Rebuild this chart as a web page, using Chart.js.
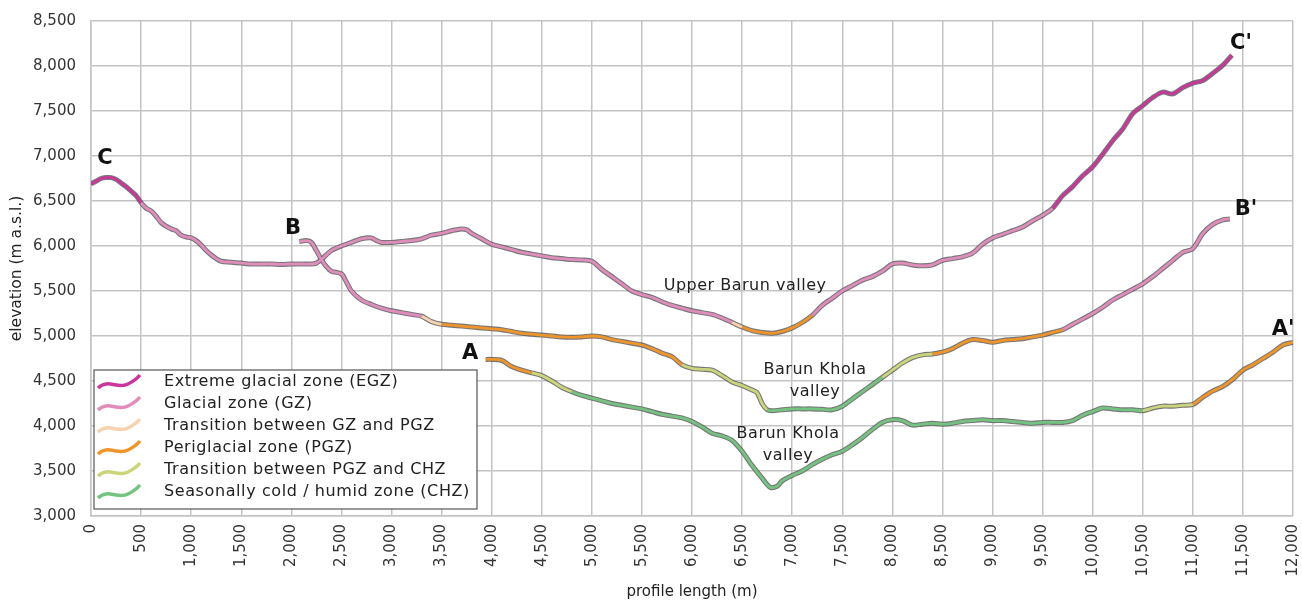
<!DOCTYPE html>
<html>
<head>
<meta charset="utf-8">
<script src="https://cdn.jsdelivr.net/npm/chart.js@4.4.1/dist/chart.umd.min.js"></script>
<style>
  html, body { margin: 0; padding: 0; background: #fff; }
  #wrap { width: 1302px; height: 603px; position: relative; }
</style>
</head>
<body>
<div id="wrap"><canvas id="profileChart" width="1302" height="603"></canvas></div>
<script>
// zones (legend order)
var zoneNames = [
  'Extreme glacial zone (EGZ)',
  'Glacial zone (GZ)',
  'Transition between GZ and PGZ',
  'Periglacial zone (PGZ)',
  'Transition between PGZ and CHZ',
  'Seasonally cold / humid zone (CHZ)'
];
var zoneColors = ['#c9379c', '#e08cbc', '#f6d2ae', '#f0952c', '#ccd57c', '#74c380'];

// profile C - C' (upper Barun valley)
var cDist = [0, 50, 100, 150, 200, 250, 300, 350, 400, 450, 500, 550, 600, 650, 700, 750, 800, 850, 900, 950,
  1000, 1050, 1100, 1150, 1200, 1250, 1300, 1400, 1500, 1600, 1700, 1800, 1900, 2000, 2100, 2200, 2250, 2300,
  2400, 2500, 2600, 2700, 2800, 2850, 2900, 3000, 3100, 3200, 3300, 3400, 3500, 3600, 3700, 3750, 3800, 3900,
  4000, 4100, 4200, 4300, 4400, 4500, 4600, 4700, 4800, 4900, 5000, 5100, 5200, 5300, 5400, 5500, 5600, 5700,
  5800, 5900, 6000, 6100, 6200, 6300, 6400, 6500, 6600, 6700, 6800, 6900, 7000, 7100, 7200, 7300, 7400, 7500,
  7600, 7700, 7800, 7900, 8000, 8100, 8200, 8300, 8400, 8500, 8600, 8700, 8800, 8900, 9000, 9100, 9200, 9300,
  9400, 9500, 9600, 9700, 9800, 9900, 10000, 10100, 10200, 10300, 10400, 10500, 10600, 10700, 10800, 10900,
  11000, 11100, 11200, 11300, 11390];
var cElev = [6690, 6720, 6750, 6760, 6760, 6740, 6700, 6660, 6610, 6560, 6480, 6420, 6390, 6330, 6260, 6220, 6190, 6170, 6120, 6100,
  6090, 6060, 6010, 5950, 5900, 5860, 5830, 5820, 5810, 5800, 5800, 5800, 5795, 5800, 5800, 5800, 5810, 5850,
  5950, 6000, 6040, 6080, 6090, 6060, 6040, 6040, 6050, 6060, 6080, 6120, 6140, 6170, 6190, 6180, 6140, 6080,
  6020, 5990, 5960, 5930, 5910, 5890, 5870, 5860, 5850, 5845, 5830, 5740, 5660, 5580, 5500, 5460, 5430, 5380,
  5340, 5310, 5280, 5260, 5240, 5200, 5150, 5100, 5060, 5040, 5030, 5050, 5090, 5150, 5230, 5340, 5420, 5500,
  5560, 5620, 5660, 5720, 5800, 5810, 5790, 5780, 5790, 5840, 5860, 5880, 5920, 6020, 6090, 6130, 6170, 6210,
  6280, 6340, 6420, 6560, 6660, 6780, 6880, 7020, 7170, 7300, 7470, 7560, 7650, 7710, 7690, 7760,
  7810, 7840, 7920, 8010, 8120];
var cZones = [[0, 0], [500, 1], [6400, 2], [6450, 3], [7150, 2], [7200, 1], [9550, 0]];

// profile B - B'
var bDist = [2080, 2150, 2200, 2250, 2300, 2350, 2400, 2500, 2550, 2600, 2700, 2800, 2900, 3000, 3100, 3200, 3300,
  3400, 3500, 3600, 3700, 3800, 3900, 4000, 4100, 4200, 4300, 4400, 4500, 4600, 4700, 4800, 4900, 5000, 5100,
  5200, 5300, 5400, 5500, 5600, 5700, 5800, 5900, 6000, 6100, 6200, 6300, 6400, 6500, 6600, 6650, 6700, 6750,
  6800, 6900, 7000, 7100, 7200, 7300, 7400, 7500, 7600, 7700, 7800, 7900, 8000, 8100, 8200, 8300, 8400, 8500,
  8600, 8700, 8800, 8900, 9000, 9100, 9200, 9300, 9400, 9500, 9600, 9700, 9800, 9900, 10000, 10100, 10200,
  10300, 10400, 10500, 10600, 10700, 10800, 10900, 11000, 11100, 11200, 11300, 11370];
var bElev = [6050, 6060, 6040, 5950, 5850, 5770, 5720, 5690, 5600, 5500, 5400, 5350, 5310, 5280, 5260, 5240, 5220,
  5160, 5130, 5120, 5110, 5100, 5090, 5080, 5070, 5050, 5030, 5020, 5010, 5000, 4990, 4985, 4990, 5000, 4990,
  4960, 4940, 4920, 4900, 4860, 4810, 4770, 4680, 4640, 4630, 4620, 4560, 4490, 4450, 4400, 4370, 4250, 4180,
  4170, 4180, 4190, 4190, 4190, 4185, 4180, 4220, 4300, 4380, 4460, 4540, 4620, 4700, 4760, 4790, 4800, 4820,
  4860, 4920, 4960, 4950, 4930, 4950, 4960, 4970, 4990, 5010, 5040, 5070, 5130, 5190, 5250, 5320, 5400,
  5460, 5520, 5580, 5660, 5750, 5840, 5930, 5970, 6140, 6240, 6290, 6300];
var bZones = [[2080, 1], [3300, 2], [3450, 3], [5850, 4], [6720, 5], [7850, 4], [8350, 3], [9680, 1]];

// profile A - A'
var aDist = [3940, 4000, 4100, 4200, 4300, 4400, 4500, 4600, 4700, 4800, 4900, 5000, 5100, 5200, 5300, 5400, 5500,
  5600, 5700, 5800, 5900, 6000, 6100, 6200, 6300, 6400, 6500, 6600, 6700, 6780, 6850, 6900, 7000, 7100, 7200,
  7300, 7400, 7500, 7600, 7700, 7800, 7900, 8000, 8100, 8200, 8300, 8400, 8500, 8600, 8700, 8800, 8900, 9000,
  9100, 9200, 9300, 9400, 9500, 9600, 9700, 9800, 9900, 10000, 10100, 10200, 10300, 10400, 10500, 10600, 10700,
  10800, 10900, 11000, 11100, 11200, 11300, 11400, 11500, 11600, 11700, 11800, 11900, 12000];
var aElev = [4740, 4740, 4730, 4660, 4620, 4590, 4560, 4500, 4430, 4380, 4340, 4310, 4280, 4250, 4230, 4210, 4190,
  4160, 4130, 4110, 4090, 4050, 3990, 3920, 3890, 3840, 3720, 3560, 3420, 3320, 3330, 3390, 3450, 3500, 3570,
  3630, 3680, 3720, 3790, 3870, 3960, 4040, 4070, 4060, 4010, 4020, 4030, 4020, 4030, 4050, 4060, 4070, 4060,
  4060, 4050, 4040, 4030, 4040, 4040, 4040, 4060, 4120, 4160, 4200, 4190, 4180, 4180, 4170, 4200, 4220,
  4220, 4230, 4240, 4320, 4390, 4440, 4520, 4620, 4680, 4750, 4820, 4900, 4930];
var aZones = [[3940, 3], [4350, 4], [4750, 5], [10450, 4], [10950, 3]];

// axis ticks
var xMin = 0, xMax = 12000, xStep = 500;
var yMin = 3000, yMax = 8500, yStep = 500;

// labels on the plot (in data units)
var endLabels = [
  { text: 'C', x: 140, y: 6967 },
  { text: 'B', x: 2017, y: 6189 },
  { text: 'A', x: 3784, y: 4800 },
  { text: "C'", x: 11480, y: 8244 },
  { text: "B'", x: 11530, y: 6400 },
  { text: "A'", x: 11900, y: 5067 }
];
var valleyLabels = [
  { lines: ['Upper Barun valley'], x: 6530, y: 5556 },
  { lines: ['Barun Khola', 'valley'], x: 7228, y: 4622 },
  { lines: ['Barun Khola', 'valley'], x: 6959, y: 3911 }
];

function toPoints(dist, elev) {
  var pts = [];
  for (var i = 0; i < dist.length; i++) pts.push({ x: dist[i], y: elev[i] });
  return pts;
}

function zoneAt(zones, d) {
  var z = zones[0][1];
  for (var i = 0; i < zones.length; i++) {
    if (d >= zones[i][0]) z = zones[i][1];
  }
  return z;
}

var profiles = [
  { dist: cDist, elev: cElev, zones: cZones },
  { dist: bDist, elev: bElev, zones: bZones },
  { dist: aDist, elev: aElev, zones: aZones }
];

var datasets = [];
profiles.forEach(function (p) {
  var pts = toPoints(p.dist, p.elev);
  // dark edge under the coloured line
  datasets.push({
    data: pts,
    borderColor: 'rgba(85,85,85,0.8)',
    borderWidth: 5,
    pointRadius: 0,
    tension: 0.3,
    order: 2
  });
  datasets.push({
    data: pts,
    borderWidth: 2.8,
    pointRadius: 0,
    tension: 0.3,
    order: 1,
    segment: {
      borderColor: function (ctx) {
        return zoneColors[zoneAt(p.zones, p.dist[ctx.p0DataIndex])];
      }
    }
  });
});

var font = "'DejaVu Sans', sans-serif";

var overlay = {
  id: 'overlay',
  afterDraw: function (chart) {
    var c = chart.ctx;
    var xs = chart.scales.x, ys = chart.scales.y;
    var area = chart.chartArea;
    c.save();

    // end point letters
    c.fillStyle = '#111';
    c.font = 'bold 21px ' + font;
    c.textAlign = 'center';
    c.textBaseline = 'middle';
    endLabels.forEach(function (l) {
      c.fillText(l.text, xs.getPixelForValue(l.x), ys.getPixelForValue(l.y));
    });

    // valley names
    c.font = '16px ' + font;
    c.letterSpacing = '0.5px';
    c.fillStyle = '#222';
    valleyLabels.forEach(function (l) {
      var px = xs.getPixelForValue(l.x), py = ys.getPixelForValue(l.y);
      l.lines.forEach(function (t, i) {
        c.fillText(t, px, py + i * 22);
      });
    });

    // legend box
    var bx = area.left + 3, by = area.top + 349, bw = 383, bh = 139;
    c.fillStyle = '#fff';
    c.fillRect(bx, by, bw, bh);
    c.strokeStyle = '#555';
    c.lineWidth = 1.2;
    c.strokeRect(bx, by, bw, bh);
    c.font = '16px ' + font;
    c.letterSpacing = '0.6px';
    c.textAlign = 'left';
    zoneNames.forEach(function (name, i) {
      var ty = by + 12 + i * 22;
      // wavy swatch
      c.beginPath();
      c.moveTo(bx + 4, ty + 6);
      c.bezierCurveTo(bx + 14, ty - 4, bx + 24, ty + 8, bx + 34, ty + 2);
      c.quadraticCurveTo(bx + 42, ty - 2, bx + 46, ty - 7);
      c.strokeStyle = zoneColors[i];
      c.lineWidth = 3.5;
      c.stroke();
      c.fillStyle = '#222';
      c.fillText(name, bx + 70, ty);
    });
    c.restore();
  }
};

var ctx = document.getElementById('profileChart').getContext('2d');
var profileChart = new Chart(ctx, {
  type: 'line',
  data: { datasets: datasets },
  options: {
    responsive: false,
    animation: false,
    layout: { padding: { left: 0, top: 21, right: 9, bottom: 0 } },
    plugins: { legend: { display: false }, tooltip: { enabled: false } },
    scales: {
      x: {
        type: 'linear',
        min: xMin,
        max: xMax,
        afterFit: function (scale) {
          scale.height = 87;
          scale.paddingLeft = 0;
          scale.paddingRight = 0;
        },
        grid: { color: '#c4c4c4', lineWidth: 1.5, drawTicks: false },
        border: { color: '#c4c4c4', width: 1.5 },
        ticks: {
          stepSize: xStep,
          minRotation: 90,
          maxRotation: 90,
          padding: 8,
          color: '#333',
          font: { family: font, size: 15 },
          callback: function (v) { return v.toLocaleString('en-US'); }
        },
        title: { display: true, text: 'profile length (m)', color: '#222', font: { family: font, size: 15 }, padding: { top: 0, bottom: 2 } }
      },
      y: {
        min: yMin,
        max: yMax,
        afterFit: function (scale) {
          scale.width = 91;
          scale.paddingTop = 0;
          scale.paddingBottom = 0;
        },
        grid: { color: '#c4c4c4', lineWidth: 1.5, drawTicks: false },
        border: { color: '#c4c4c4', width: 1.5 },
        ticks: {
          stepSize: yStep,
          padding: 15,
          color: '#333',
          font: { family: font, size: 15 },
          callback: function (v) { return v.toLocaleString('en-US'); }
        },
        title: { display: true, text: 'elevation (m a.s.l.)', color: '#222', font: { family: font, size: 15.5 }, padding: { top: 8, bottom: 2 } }
      }
    }
  },
  plugins: [overlay]
});
</script>
</body>
</html>
